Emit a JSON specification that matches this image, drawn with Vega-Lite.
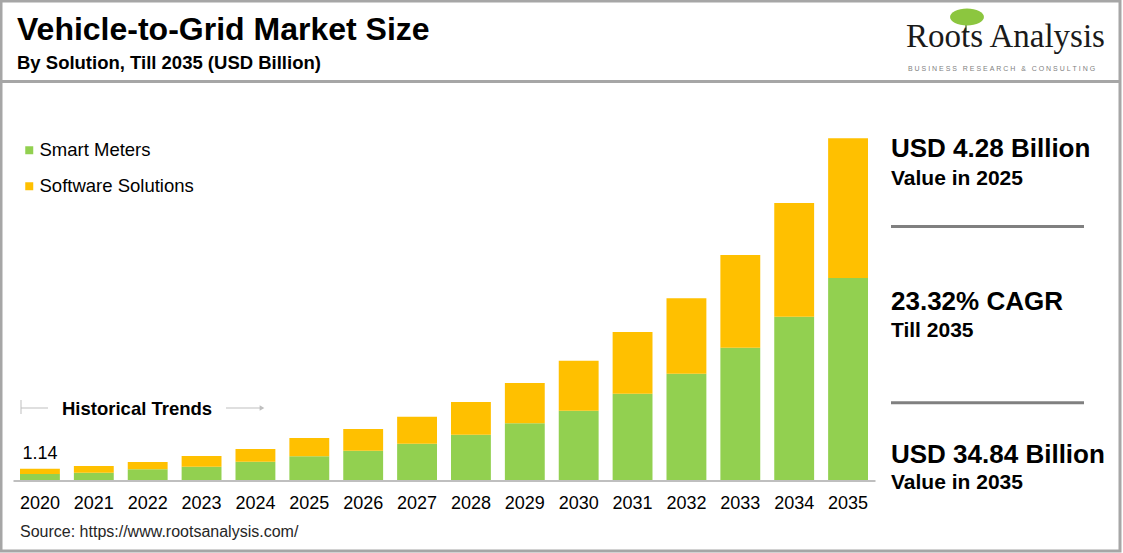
{
  "$schema": "https://vega.github.io/schema/vega-lite/v6.json",
  "width": 1119,
  "height": 550,
  "autosize": "none",
  "padding": {"left": 1, "top": 1, "right": 3, "bottom": 2},
  "background": "white",
  "config": {
    "view": {"stroke": "#a6a6a6", "strokeWidth": 3},
    "font": "Liberation Sans",
    "text": {"font": "Liberation Sans", "color": "black"}
  },
  "title": {
    "text": "Vehicle-to-Grid Market Size",
    "subtitle": "By Solution, Till 2035 (USD Billion)",
    "anchor": "start",
    "frame": "group",
    "orient": "top",
    "offset": -72,
    "dx": 16,
    "fontSize": 32,
    "fontWeight": "bold",
    "color": "black",
    "font": "Liberation Sans",
    "subtitleFontSize": 18.5,
    "subtitleFontWeight": "bold",
    "subtitleColor": "black",
    "subtitleFont": "Liberation Sans",
    "subtitlePadding": 7
  },
  "data": {
    "values": [
      {"year": "2020", "solution": "Smart Meters", "value": 0.60},
      {"year": "2020", "solution": "Software Solutions", "value": 0.54},
      {"year": "2021", "solution": "Smart Meters", "value": 0.74},
      {"year": "2021", "solution": "Software Solutions", "value": 0.69},
      {"year": "2022", "solution": "Smart Meters", "value": 1.09},
      {"year": "2022", "solution": "Software Solutions", "value": 0.74},
      {"year": "2023", "solution": "Smart Meters", "value": 1.36},
      {"year": "2023", "solution": "Software Solutions", "value": 1.09},
      {"year": "2024", "solution": "Smart Meters", "value": 1.87},
      {"year": "2024", "solution": "Software Solutions", "value": 1.29},
      {"year": "2025", "solution": "Smart Meters", "value": 2.42},
      {"year": "2025", "solution": "Software Solutions", "value": 1.86},
      {"year": "2026", "solution": "Smart Meters", "value": 2.99},
      {"year": "2026", "solution": "Software Solutions", "value": 2.21},
      {"year": "2027", "solution": "Smart Meters", "value": 3.70},
      {"year": "2027", "solution": "Software Solutions", "value": 2.75},
      {"year": "2028", "solution": "Smart Meters", "value": 4.62},
      {"year": "2028", "solution": "Software Solutions", "value": 3.33},
      {"year": "2029", "solution": "Smart Meters", "value": 5.78},
      {"year": "2029", "solution": "Software Solutions", "value": 4.11},
      {"year": "2030", "solution": "Smart Meters", "value": 7.06},
      {"year": "2030", "solution": "Software Solutions", "value": 5.10},
      {"year": "2031", "solution": "Smart Meters", "value": 8.80},
      {"year": "2031", "solution": "Software Solutions", "value": 6.29},
      {"year": "2032", "solution": "Smart Meters", "value": 10.84},
      {"year": "2032", "solution": "Software Solutions", "value": 7.68},
      {"year": "2033", "solution": "Smart Meters", "value": 13.49},
      {"year": "2033", "solution": "Software Solutions", "value": 9.45},
      {"year": "2034", "solution": "Smart Meters", "value": 16.65},
      {"year": "2034", "solution": "Software Solutions", "value": 11.59},
      {"year": "2035", "solution": "Smart Meters", "value": 20.59},
      {"year": "2035", "solution": "Software Solutions", "value": 14.25}
    ]
  },
  "layer": [
    {
      "data": {"values": [{}]},
      "mark": {"type": "rule", "color": "#a6a6a6", "strokeWidth": 3},
      "encoding": {"y": {"value": 80.5}}
    },
    {
      "mark": {"type": "bar"},
      "encoding": {
        "x": {
          "field": "year",
          "type": "nominal",
          "scale": {"range": [12, 874], "paddingInner": 0.26, "paddingOuter": 0.13},
          "axis": {
            "offset": -70.5,
            "title": null,
            "labelAngle": 0,
            "ticks": false,
            "domainColor": "#bfbfbf",
            "domainWidth": 2,
            "labelFontSize": 18,
            "labelColor": "black",
            "labelFont": "Liberation Sans",
            "labelPadding": 14,
            "grid": false
          }
        },
        "y": {
          "field": "value",
          "type": "quantitative",
          "aggregate": "sum",
          "stack": "zero",
          "scale": {"domain": [0, 34.84], "range": [479, 137.3], "nice": false, "zero": true},
          "axis": null
        },
        "color": {
          "field": "solution",
          "type": "nominal",
          "scale": {"domain": ["Smart Meters", "Software Solutions"], "range": ["#92d050", "#ffc000"]},
          "legend": {
            "orient": "none",
            "legendX": 19,
            "legendY": 140,
            "title": null,
            "symbolType": "square",
            "symbolSize": 64,
            "symbolStrokeWidth": 0,
            "labelFontSize": 18.5,
            "labelColor": "black",
            "labelFont": "Liberation Sans",
            "rowPadding": 17,
            "labelOffset": 1
          }
        },
        "order": {"field": "solution", "sort": "ascending"}
      }
    },
    {
      "transform": [
        {"aggregate": [{"op": "sum", "field": "value", "as": "total"}], "groupby": ["year"]},
        {"filter": "datum.year == '2020'"}
      ],
      "mark": {"type": "text", "fontSize": 18, "dy": -10, "baseline": "alphabetic", "color": "black"},
      "encoding": {
        "x": {"field": "year", "type": "nominal"},
        "y": {"field": "total", "type": "quantitative"},
        "text": {"field": "total", "type": "quantitative", "format": ".2f"}
      }
    },
    {
      "data": {"values": [{}]},
      "mark": {"type": "rule", "color": "#8a9a6a", "strokeWidth": 2},
      "encoding": {"x": {"value": 965}, "y": {"value": 18}, "y2": {"value": 30}}
    },
    {
      "data": {"values": [{}]},
      "mark": {"type": "point", "filled": true, "color": "#8cc63f", "opacity": 1, "shape": "M -1 0 A 1 0.5 0 1 1 1 0 A 1 0.5 0 1 1 -1 0 Z", "size": 1150},
      "encoding": {"x": {"value": 966}, "y": {"value": 16}}
    },
    {
      "data": {"values": [{"t": "Roots Analysis"}]},
      "mark": {"type": "text", "font": "Liberation Serif", "fontSize": 33, "align": "left", "baseline": "alphabetic", "color": "#1a1a1a"},
      "encoding": {"x": {"value": 905}, "y": {"value": 46}, "text": {"field": "t"}}
    },
    {
      "data": {"values": [{"t": "B\u00a0U\u00a0S\u00a0I\u00a0N\u00a0E\u00a0S\u00a0S\u00a0\u00a0\u00a0R\u00a0E\u00a0S\u00a0E\u00a0A\u00a0R\u00a0C\u00a0H\u00a0\u00a0\u00a0&\u00a0\u00a0\u00a0C\u00a0O\u00a0N\u00a0S\u00a0U\u00a0L\u00a0T\u00a0I\u00a0N\u00a0G"}]},
      "mark": {"type": "text", "fontSize": 7, "align": "left", "baseline": "alphabetic", "color": "#7f7f7f"},
      "encoding": {"x": {"value": 907}, "y": {"value": 69.5}, "text": {"field": "t"}}
    },
    {
      "data": {"values": [{"t": "USD 4.28 Billion"}]},
      "mark": {"type": "text", "fontSize": 26, "fontWeight": "bold", "align": "left", "baseline": "alphabetic"},
      "encoding": {"x": {"value": 890}, "y": {"value": 156}, "text": {"field": "t"}}
    },
    {
      "data": {"values": [{"t": "Value in 2025"}]},
      "mark": {"type": "text", "fontSize": 21, "fontWeight": "bold", "align": "left", "baseline": "alphabetic"},
      "encoding": {"x": {"value": 890}, "y": {"value": 184}, "text": {"field": "t"}}
    },
    {
      "data": {"values": [{}]},
      "mark": {"type": "rule", "color": "#808080", "strokeWidth": 3},
      "encoding": {"x": {"value": 890}, "x2": {"value": 1083}, "y": {"value": 225.5}}
    },
    {
      "data": {"values": [{"t": "23.32% CAGR"}]},
      "mark": {"type": "text", "fontSize": 26, "fontWeight": "bold", "align": "left", "baseline": "alphabetic"},
      "encoding": {"x": {"value": 890}, "y": {"value": 309}, "text": {"field": "t"}}
    },
    {
      "data": {"values": [{"t": "Till 2035"}]},
      "mark": {"type": "text", "fontSize": 21, "fontWeight": "bold", "align": "left", "baseline": "alphabetic"},
      "encoding": {"x": {"value": 890}, "y": {"value": 336}, "text": {"field": "t"}}
    },
    {
      "data": {"values": [{}]},
      "mark": {"type": "rule", "color": "#808080", "strokeWidth": 3},
      "encoding": {"x": {"value": 890}, "x2": {"value": 1083}, "y": {"value": 401.7}}
    },
    {
      "data": {"values": [{"t": "USD 34.84 Billion"}]},
      "mark": {"type": "text", "fontSize": 26, "fontWeight": "bold", "align": "left", "baseline": "alphabetic"},
      "encoding": {"x": {"value": 890}, "y": {"value": 462}, "text": {"field": "t"}}
    },
    {
      "data": {"values": [{"t": "Value in 2035"}]},
      "mark": {"type": "text", "fontSize": 21, "fontWeight": "bold", "align": "left", "baseline": "alphabetic"},
      "encoding": {"x": {"value": 890}, "y": {"value": 488}, "text": {"field": "t"}}
    },
    {
      "data": {"values": [{"t": "Historical Trends"}]},
      "mark": {"type": "text", "fontSize": 18.5, "fontWeight": "bold", "align": "left", "baseline": "alphabetic"},
      "encoding": {"x": {"value": 61}, "y": {"value": 414}, "text": {"field": "t"}}
    },
    {
      "data": {"values": [{}]},
      "mark": {"type": "rule", "color": "#bfbfbf", "strokeWidth": 1},
      "encoding": {"x": {"value": 20}, "x2": {"value": 47}, "y": {"value": 407}}
    },
    {
      "data": {"values": [{}]},
      "mark": {"type": "rule", "color": "#bfbfbf", "strokeWidth": 1},
      "encoding": {"x": {"value": 20}, "y": {"value": 399}, "y2": {"value": 413}}
    },
    {
      "data": {"values": [{}]},
      "mark": {"type": "rule", "color": "#bfbfbf", "strokeWidth": 1},
      "encoding": {"x": {"value": 225}, "x2": {"value": 262}, "y": {"value": 407}}
    },
    {
      "data": {"values": [{}]},
      "mark": {"type": "point", "shape": "triangle-right", "filled": true, "color": "#bfbfbf", "size": 30, "opacity": 1},
      "encoding": {"x": {"value": 261}, "y": {"value": 407}}
    },
    {
      "data": {"values": [{"t": "Source: https://www.rootsanalysis.com/"}]},
      "mark": {"type": "text", "fontSize": 16, "align": "left", "baseline": "alphabetic", "color": "#262626"},
      "encoding": {"x": {"value": 19}, "y": {"value": 536}, "text": {"field": "t"}}
    }
  ]
}
